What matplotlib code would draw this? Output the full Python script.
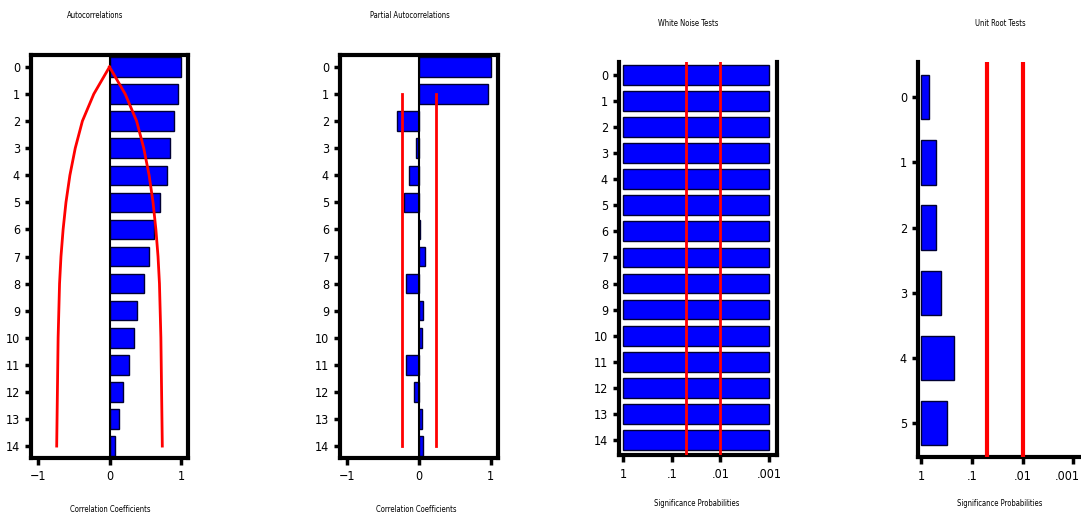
import numpy as np
import matplotlib
matplotlib.use('Agg')
import matplotlib.pyplot as plt
from matplotlib.transforms import ScaledTranslation

plt.rcParams['font.family'] = ['Liberation Sans Narrow', 'DejaVu Sans']
plt.rcParams['font.stretch'] = 'condensed'

# ---- data ----
acf_lags = list(range(15))
acf = [1.00, 0.96, 0.91, 0.85, 0.80, 0.71, 0.62, 0.56, 0.49, 0.39, 0.34, 0.27, 0.19, 0.14, 0.08]
acf_band = [0.0, 0.22, 0.38, 0.48, 0.555, 0.61, 0.65, 0.68, 0.70, 0.71, 0.72, 0.725, 0.73, 0.735, 0.74]

pacf_lags = list(range(15))
pacf = [1.00, 0.96, -0.31, -0.04, -0.14, -0.21, 0.02, 0.09, -0.18, 0.06, 0.04, -0.18, -0.07, 0.04, 0.06]
pacf_band = 0.23

wn_lags = list(range(15))
wn_prob = [0.001] * 15

ur_lags = list(range(6))
ur_prob = [0.70, 0.51, 0.51, 0.40, 0.22, 0.31]

sig_levels = [0.05, 0.01]
log_ticks = [1, 0.1, 0.01, 0.001]
log_ticklabels = ['1', '.1', '.01', '.001']

titles = ['Autocorrelations', 'Partial Autocorrelations', 'White Noise Tests', 'Unit Root Tests']
corr_xlabel = 'Correlation Coefficients'
prob_xlabel = 'Significance Probabilities'

BLUE = '#0000ff'
EDGE = '#000033'
RED = '#ff0000'
W, H = 1081, 518
TICK_FS = 9


def px_axes(fig, x0, x1, ytop, ybot):
    return fig.add_axes([x0 / W, 1 - ybot / H, (x1 - x0) / W, (ybot - ytop) / H])


def style(ax, lags, spines=('left', 'bottom', 'top', 'right')):
    for s in ax.spines:
        ax.spines[s].set_visible(s in spines)
        ax.spines[s].set_linewidth(3)
    ax.set_yticks(lags)
    ax.set_yticklabels([str(l) for l in lags])
    ax.tick_params(axis='both', direction='out', width=2.5, length=5,
                   labelsize=TICK_FS, pad=4)
    ax.tick_params(axis='y', length=4, pad=4)
    ax.tick_params(top=False, right=False)


fig = plt.figure(figsize=(W / 100, H / 100), dpi=100, facecolor='white')

# ---- panel 1: autocorrelations ----
ax1 = px_axes(fig, 31, 188, 55, 458)
ax1.barh(acf_lags, acf, height=0.72, color=BLUE, edgecolor=EDGE, lw=1, zorder=2)
ax1.axvline(0, color='black', lw=1.5, zorder=3)
ax1.plot(acf_band, acf_lags, color=RED, lw=2, zorder=4)
ax1.plot([-b for b in acf_band], acf_lags, color=RED, lw=2, zorder=4)
ax1.set_xlim(-1.1, 1.1)
ax1.set_ylim(14.44, -0.44)
ax1.set_xticks([-1, 0, 1])
ax1.set_xticklabels(['\u22121', '0', '1'])
style(ax1, acf_lags)

# ---- panel 2: partial autocorrelations ----
ax2 = px_axes(fig, 340, 498, 55, 458)
ax2.barh(pacf_lags, pacf, height=0.72, color=BLUE, edgecolor=EDGE, lw=1, zorder=2)
ax2.axvline(0, color='black', lw=1.5, zorder=3)
ax2.plot([-pacf_band] * 2, [1, 14], color=RED, lw=2, zorder=4)
ax2.plot([pacf_band] * 2, [1, 14], color=RED, lw=2, zorder=4)
ax2.set_xlim(-1.1, 1.1)
ax2.set_ylim(14.44, -0.44)
ax2.set_xticks([-1, 0, 1])
ax2.set_xticklabels(['\u22121', '0', '1'])
style(ax2, pacf_lags)

# ---- panel 3: white noise ----
ax3 = px_axes(fig, 619, 777, 62, 455)
ax3.set_xscale('log')
ax3.barh(wn_lags, [p - 1 for p in wn_prob], left=1, height=0.76,
         color=BLUE, edgecolor=EDGE, lw=1, zorder=2)
for s in sig_levels:
    ax3.axvline(s, color=RED, lw=2, zorder=4)
ax3.set_xlim(10 ** 0.082, 10 ** -3.16)
ax3.set_ylim(14.58, -0.5)
ax3.set_xticks(log_ticks)
ax3.set_xticklabels(log_ticklabels)
ax3.minorticks_off()
style(ax3, wn_lags, spines=('left', 'bottom', 'right'))

# ---- panel 4: unit root ----
ax4 = px_axes(fig, 918, 1086, 62, 457)
ax4.set_xscale('log')
ax4.barh(ur_lags, [p - 1 for p in ur_prob], left=1, height=0.68,
         color=BLUE, edgecolor=EDGE, lw=1, zorder=2)
for s in sig_levels:
    ax4.axvline(s, color=RED, lw=3, zorder=4)
ax4.set_xlim(10 ** 0.06, 10 ** -3.25)
ax4.set_ylim(5.52, -0.54)
ax4.set_xticks(log_ticks)
ax4.set_xticklabels(log_ticklabels)
ax4.minorticks_off()
style(ax4, ur_lags, spines=('left', 'bottom', 'right'))

# keep the last ".001" inside the figure edge
last = ax4.get_xticklabels()[-1]
last.set_ha('right')
last.set_transform(last.get_transform() + ScaledTranslation(6 / 100, 0, fig.dpi_scale_trans))

# ---- titles and axis labels (small text) ----
fig.text(95 / W, 1 - 15 / H, titles[0], fontsize=5.5, ha='center', va='center')
fig.text(410 / W, 1 - 15 / H, titles[1], fontsize=5.5, ha='center', va='center')
fig.text(688 / W, 1 - 24 / H, titles[2], fontsize=5.5, ha='center', va='center')
fig.text(1000 / W, 1 - 24 / H, titles[3], fontsize=5.5, ha='center', va='center')
fig.text(110 / W, 1 - 510 / H, corr_xlabel, fontsize=5.5, ha='center', va='center')
fig.text(416 / W, 1 - 510 / H, corr_xlabel, fontsize=5.5, ha='center', va='center')
fig.text(697 / W, 1 - 504 / H, prob_xlabel, fontsize=5.5, ha='center', va='center')
fig.text(1000 / W, 1 - 504 / H, prob_xlabel, fontsize=5.5, ha='center', va='center')

fig.savefig('out.png', dpi=100, facecolor='white')
